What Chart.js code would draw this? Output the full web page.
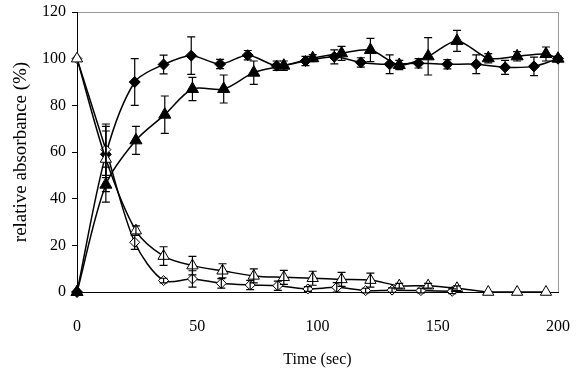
<!DOCTYPE html>
<html>
<head>
<meta charset="utf-8">
<script src="https://cdn.jsdelivr.net/npm/chart.js@4/dist/chart.umd.min.js"></script>
<style>
  html, body { margin: 0; padding: 0; background: #fff; }
  #wrap { width: 577px; height: 381px; }
</style>
</head>
<body>
<div id="wrap"><canvas id="myChart" width="577" height="381"></canvas></div>
<script>
// filled diamonds
let timeA = [0, 12, 24, 36, 47.5, 59.5, 71, 83, 95, 107, 118, 130, 142, 154, 166, 178, 190, 200];
let valA  = [0, 59, 90, 97.5, 101.3, 97.7, 101.5, 97, 99, 100.8, 98.4, 97.6, 98, 97.6, 97.6, 96.3, 96.7, 100];
let errA  = [0, 10, 10, 4, 8, 2, 2, 2, 2, 3, 2, 4, 2, 2, 4, 3, 4, 1];

// filled triangles
let timeB = [0, 12, 24.5, 36.5, 48, 61, 73.5, 86, 98, 110, 122, 134, 146, 158, 171, 183, 195, 200];
let valB  = [0, 46, 65, 76, 87, 87, 94, 97, 100.2, 102.3, 103.7, 97.3, 101, 107.6, 100.2, 101, 102, 100];
let errB  = [0, 7.5, 6, 8, 5, 6, 5, 2, 1.5, 3, 5, 2, 8, 4.5, 2, 2, 3, 1];

// open diamonds
let timeC = [0, 12, 24, 36, 48, 60, 72, 83.5, 96, 108, 120, 131, 143, 156];
let valC  = [100, 61, 21.3, 4.9, 5.6, 3.7, 3, 2.7, 1.3, 2, 0.6, 0.8, 0.6, 0.3];
let errC  = [0, 11, 3, 1, 3.5, 2, 2, 2, 1, 2, 1, 1, 1, 1];

// open triangles
let timeD = [0, 12, 24.5, 36, 48, 60.5, 73.5, 86, 98, 110, 122, 134, 146, 158, 171, 183, 195];
let valD  = [100, 57, 26.3, 15.4, 11.3, 9.1, 6.9, 6.3, 5.9, 5.4, 5.1, 2.7, 2.7, 1.6, 0, 0, 0];
let errD  = [0, 14, 2, 4, 4, 3, 3, 3, 3, 3, 3, 1, 1, 1, 0, 0, 0];

let xTicks = [0, 50, 100, 150, 200];
let yTicks = [0, 20, 40, 60, 80, 100, 120];

function pts(t, v){
    let out = [];
    for(i=0;i<t.length;i++){
        out.push({x: t[i], y: v[i]});
    }
    return out;
}

function makeSet(t, v, e, style, filled, r){
    return {
        data: pts(t, v),
        errors: e,
        showLine: true,
        tension: 0.3,
        borderColor: '#000',
        borderWidth: 1.5,
        pointStyle: style,
        pointRadius: r,
        pointHoverRadius: r,
        pointBackgroundColor: filled ? '#000' : '#fff',
        pointBorderColor: '#000',
        pointBorderWidth: 1,
        clip: false
    };
}

// error bars, drawn through the scales
let errorBars = {
    id: 'errorBars',
    afterDatasetsDraw(chart){
        let ctx = chart.ctx;
        let xs = chart.scales.x, ys = chart.scales.y;
        ctx.save();
        ctx.strokeStyle = '#000';
        ctx.lineWidth = 1.2;
        chart.data.datasets.forEach(ds => {
            ds.data.forEach((p, i) => {
                let e = ds.errors[i];
                if(!e) return;
                let px = xs.getPixelForValue(p.x);
                let top = ys.getPixelForValue(p.y + e);
                let bot = ys.getPixelForValue(p.y - e);
                ctx.beginPath();
                ctx.moveTo(px, top); ctx.lineTo(px, bot);
                ctx.moveTo(px - 4, top); ctx.lineTo(px + 4, top);
                ctx.moveTo(px - 4, bot); ctx.lineTo(px + 4, bot);
                ctx.stroke();
            });
        });
        ctx.restore();
    }
};

// grey plot box, black axes on left and bottom
let plotBox = {
    id: 'plotBox',
    beforeDatasetsDraw(chart){
        let a = chart.chartArea, ctx = chart.ctx;
        ctx.save();
        ctx.strokeStyle = '#9a9a9a';
        ctx.lineWidth = 1;
        ctx.strokeRect(a.left + 0.5, a.top + 0.5, a.right - a.left, a.bottom - a.top);
        ctx.strokeStyle = '#000';
        ctx.beginPath();
        ctx.moveTo(a.left + 0.5, a.top); ctx.lineTo(a.left + 0.5, a.bottom + 0.5);
        ctx.lineTo(a.right + 1, a.bottom + 0.5);
        ctx.stroke();
        ctx.restore();
    }
};

let font = {family: "'Liberation Serif', 'Times New Roman', serif", size: 16};
let yTitleFont = {family: "'Liberation Serif', 'Times New Roman', serif", size: 19};

let ctx = document.getElementById('myChart').getContext('2d');
let chart = new Chart(ctx, {
    type: 'scatter',
    data: {
        datasets: [
            makeSet(timeD, valD, errD, 'triangle', false, 6.5),
            makeSet(timeC, valC, errC, 'rectRot', false, 5),
            makeSet(timeB, valB, errB, 'triangle', true, 7),
            makeSet(timeA, valA, errA, 'rectRot', true, 5.5)
        ]
    },
    options: {
        responsive: false,
        animation: false,
        layout: {padding: {top: 12, right: 19, left: 0, bottom: 0}},
        plugins: {legend: {display: false}, tooltip: {enabled: false}},
        scales: {
            x: {
                type: 'linear',
                min: 0, max: 200,
                afterBuildTicks: s => { s.ticks = xTicks.map(v => ({value: v})); },
                afterFit: s => { s.height = 89; s.paddingLeft = 0; s.paddingRight = 0; },
                grid: {display: false},
                border: {display: false},
                ticks: {color: '#000', font: font, padding: 17, maxRotation: 0},
                title: {display: true, text: 'Time (sec)', color: '#000', font: font, padding: {top: 0, bottom: 12}}
            },
            y: {
                type: 'linear',
                min: 0, max: 120,
                afterBuildTicks: s => { s.ticks = yTicks.map(v => ({value: v})); },
                afterFit: s => { s.width = 77; s.paddingTop = 0; s.paddingBottom = 0; },
                grid: {display: true, drawOnChartArea: false, drawTicks: true, tickLength: 5, color: '#000'},
                border: {display: false},
                ticks: {color: '#000', font: font, padding: 6},
                title: {display: true, text: 'relative absorbance (%)', color: '#000', font: yTitleFont, padding: {top: 10, bottom: 0}}
            }
        }
    },
    plugins: [plotBox, errorBars]
});
</script>
</body>
</html>
